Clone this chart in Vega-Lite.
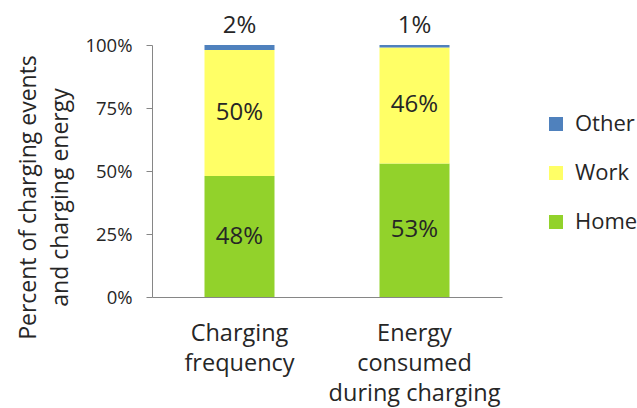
{
  "$schema": "https://vega.github.io/schema/vega-lite/v6.json",
  "width": 350,
  "height": 252,
  "autosize": "none",
  "padding": {"left": 152, "top": 45, "right": 135, "bottom": 111},
  "config": {"view": {"stroke": null}, "font": "Open Sans"},
  "data": {
    "values": [
      {"category": "Charging frequency", "location": "Home", "value": 48},
      {"category": "Charging frequency", "location": "Work", "value": 50},
      {"category": "Charging frequency", "location": "Other", "value": 2},
      {"category": "Energy consumed during charging", "location": "Home", "value": 53},
      {"category": "Energy consumed during charging", "location": "Work", "value": 46},
      {"category": "Energy consumed during charging", "location": "Other", "value": 1}
    ]
  },
  "transform": [
    {"calculate": "indexof(['Home','Work','Other'], datum.location)", "as": "rank"},
    {"stack": "value", "groupby": ["category"], "sort": [{"field": "rank"}], "as": ["v0", "v1"]},
    {"calculate": "(datum.v0 + datum.v1) / 2", "as": "mid"},
    {"calculate": "datum.value + '%'", "as": "label"}
  ],
  "encoding": {
    "x": {
      "field": "category",
      "type": "nominal",
      "sort": null,
      "scale": {"paddingInner": 0.6, "paddingOuter": 0.3},
      "axis": {
        "title": null,
        "labelAngle": 0,
        "ticks": false,
        "domainColor": "#868686",
        "labelFontSize": 23.5,
        "labelLineHeight": 30,
        "labelPadding": 24,
        "labelColor": "#262626",
        "labelLimit": 400,
        "labelExpr": "datum.value == 'Charging frequency' ? ['Charging','frequency'] : ['Energy','consumed','during charging']"
      }
    }
  },
  "layer": [
    {
      "mark": {"type": "bar"},
      "encoding": {
        "y": {
          "field": "v1",
          "type": "quantitative",
          "scale": {"domain": [0, 100]},
          "title": ["Percent of charging events", "and charging energy"],
          "axis": {
            "title": ["Percent of charging events", "and charging energy"],
            "titleFontSize": 23,
            "titleFontWeight": "normal",
            "titleColor": "#262626",
            "titleLineHeight": 32,
            "titleAngle": 270,
            "titleAlign": "center",
            "titleBaseline": "middle",
            "titleX": -124,
            "titleY": 152,
            "values": [0, 25, 50, 75, 100],
            "labelExpr": "datum.value + '%'",
            "labelFontSize": 18.5,
            "labelColor": "#262626",
            "labelPadding": 14,
            "tickSize": 6,
            "tickColor": "#868686",
            "domainColor": "#868686",
            "grid": false
          }
        },
        "y2": {"field": "v0"},
        "color": {
          "field": "location",
          "type": "nominal",
          "scale": {"domain": ["Other", "Work", "Home"], "range": ["#4F81BD", "#FFFF66", "#92D22B"]},
          "legend": {
            "title": null,
            "orient": "none",
            "legendX": 393,
            "legendY": 68,
            "padding": 0,
            "symbolType": "square",
            "symbolSize": 196,
            "symbolStrokeWidth": 0,
            "labelFontSize": 22,
            "labelColor": "#262626",
            "labelOffset": 8,
            "rowPadding": 27
          }
        }
      }
    },
    {
      "transform": [{"filter": "datum.location != 'Other'"}],
      "mark": {"type": "text", "fontSize": 24, "color": "#262626"},
      "encoding": {
        "y": {"field": "mid", "type": "quantitative", "title": ["Percent of charging events", "and charging energy"]},
        "text": {"field": "label"}
      }
    },
    {
      "transform": [{"filter": "datum.location == 'Other'"}],
      "mark": {"type": "text", "fontSize": 24, "color": "#262626", "baseline": "bottom", "dy": -7},
      "encoding": {
        "y": {"field": "v1", "type": "quantitative", "title": ["Percent of charging events", "and charging energy"]},
        "text": {"field": "label"}
      }
    }
  ]
}
